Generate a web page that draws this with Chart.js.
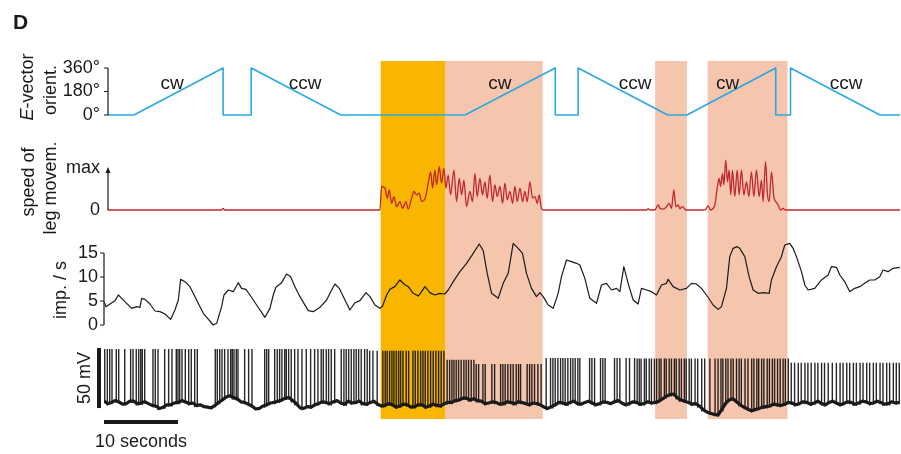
<!DOCTYPE html>
<html>
<head>
<meta charset="utf-8">
<title>E-vector response</title>
<script src="https://cdn.jsdelivr.net/npm/chart.js@4.4.1/dist/chart.umd.min.js"></script>
<style>
  html, body { margin: 0; padding: 0; background: #fff; }
  #wrap { width: 901px; height: 454px; }
</style>
</head>
<body>
<div id="wrap"><canvas id="myChart" width="901" height="454"></canvas></div>
<script>
// Shaded behaviour periods (seconds)
const shadeStarts = [37.4, 46.1, 74.5, 81.6];
const shadeEnds = [46.1, 59.3, 78.8, 92.4];
const shadeKinds = ['onset', 'walking', 'walking', 'walking'];

// E-vector orientation of the stimulus (degrees)
const eTimes = [0.5, 4.05, 16.1, 16.1, 19.9, 19.9, 32.0, 48.8, 61.0, 61.0, 64.1, 64.1, 76.2, 78.8, 90.8, 90.8, 92.8, 92.8, 104.9, 107.6];
const eAngles = [0, 0, 360, 0, 0, 360, 0, 0, 360, 0, 0, 360, 0, 0, 360, 0, 0, 360, 0, 0];
const eTicks = [0, 180, 360];
const rotationLabels = ['cw', 'ccw', 'cw', 'ccw', 'cw', 'ccw'];
const rotationLabelTimes = [9.2, 27.2, 53.5, 71.8, 84.3, 100.3];

// speed of leg movements (0 .. max = 1)
const speedTimes = [0.5, 15.9, 16.1, 16.3,
  37.3, 37.52, 37.97, 38.29, 38.56, 38.88, 39.19, 39.55, 40.0, 40.36,
  40.81, 41.13, 41.58, 41.9, 42.26, 42.62, 42.93, 43.38, 43.83, 44.15,
  44.42, 44.73, 44.96, 45.32, 45.63, 45.95, 46.22, 46.53, 46.85, 47.3,
  47.66, 48.02, 48.34, 48.65, 49.01, 49.46, 49.82, 50.14, 50.45, 50.81,
  51.17, 51.49, 51.8, 52.16, 52.52, 52.84, 53.15, 53.52, 53.88, 54.19,
  54.51, 54.87, 55.23, 55.54, 55.86, 56.22, 56.58, 56.89, 57.21, 57.57,
  57.93, 58.25, 58.56, 58.83, 59.14, 59.46,
  73.34, 73.56, 73.8, 74.46, 74.91, 75.14, 75.59, 76.04, 76.4, 76.71, 77.03, 77.3, 77.62, 77.84, 78.2, 78.65,
  81.0, 81.35, 81.67, 81.98, 82.3, 82.57, 82.89, 83.16, 83.34, 83.61,
  83.79, 84.05, 84.28, 84.5, 84.73, 84.95, 85.27, 85.59, 85.86, 86.17,
  86.49, 86.85, 87.16, 87.52, 87.84, 88.2, 88.56, 88.88, 89.1, 89.42,
  89.69, 89.91, 90.23, 90.54, 90.81, 91.13, 91.44, 91.8, 92.08, 107.6];
const speedValues = [0, 0, 0.04, 0,
  0, 0.56, 0.52, 0.28, 0.48, 0.16, 0.32, 0.08, 0.2, 0.04,
  0.2, 0.02, 0.28, 0.44, 0.36, 0.4, 0.2, 0.26, 0.64, 0.91,
  0.52, 0.95, 0.6, 1.03, 0.64, 0.99, 0.52, 0.83, 0.36, 0.95,
  0.2, 0.75, 0.36, 0.71, 0.08, 0.44, 0.2, 0.87, 0.32, 0.75,
  0.36, 0.67, 0.28, 0.83, 0.2, 0.6, 0.32, 0.56, 0.16, 0.64,
  0.24, 0.44, 0.16, 0.56, 0.2, 0.52, 0.2, 0.44, 0.2, 0.67,
  0.28, 0.32, 0.16, 0.36, 0.02, 0,
  0, 0.03, 0, 0, 0.12, 0.04, 0.02, 0.08, 0.16, 0.04, 0.48, 0.08, 0.12, 0.03, 0.08, 0,
  0, 0.02, 0.1, 0, 0.03, 0.12, 0.52, 0.75, 0.56, 0.87,
  0.6, 1.19, 0.67, 0.95, 0.36, 0.95, 0.32, 0.95, 0.36, 0.95,
  0.36, 0.67, 0.32, 0.91, 0.32, 0.95, 0.32, 0.71, 0.2, 1.15,
  0.36, 0.2, 0.91, 0.32, 0.2, 0.12, 0, 0.04, 0, 0];

// spike rate (imp. / s)
const rateTimes = [0, 0.27, 0.81, 1.49, 1.94, 2.39, 3.06, 3.74, 4.41, 4.86,
  5.09, 5.54, 6.22, 6.89, 7.57, 8.24, 9.01, 9.59, 10.05, 10.36,
  10.95, 11.62, 12.52, 13.42, 14.77, 15.23, 15.9, 16.22, 16.8, 17.48,
  18.15, 18.6, 19.19, 19.73, 20.63, 21.76, 22.43, 22.88, 23.24, 24.01,
  24.68, 25.23, 25.81, 26.49, 27.61, 28.29, 29.19, 30.09, 30.77, 31.22,
  31.8, 32.57, 33.24, 33.92, 34.59, 35.41, 35.95, 36.62, 37.3, 37.66,
  38.2, 38.65, 39.32, 40.0, 40.54, 41.13, 41.8, 42.48, 42.93, 43.38,
  44.05, 44.73, 45.41, 46.08, 46.53, 47.21, 48.11, 49.01, 49.91, 50.72,
  51.26, 51.8, 52.39, 53.29,
  53.96, 54.64, 55.31, 55.99, 56.57, 57.11, 57.79, 58.46, 58.92, 59.37,
  60.04, 60.72, 61.39, 61.84, 62.52, 63.19, 63.87, 64.32, 65.0, 65.67,
  66.57, 67.25, 67.92, 68.6, 69.28, 69.73, 70.27, 70.85, 71.53, 72.2,
  72.65, 73.33, 74.0, 74.68, 75.36, 76.03, 76.26, 76.93, 77.83, 78.74,
  79.41, 80.09, 80.76, 81.44, 82.34, 83.01, 83.47, 84.14, 84.59, 85.04,
  85.58, 85.94, 86.62, 87.2, 87.75, 88.42, 89.1, 89.91, 90.22, 90.9,
  91.57, 92.02, 92.7, 93.15, 93.6, 94.28, 94.73, 95.18, 96.08, 96.98,
  97.88, 98.33, 99.01, 99.46, 100.13, 100.81, 101.48, 102.16, 102.83, 103.51,
  104.18, 104.86, 105.31, 105.99, 106.66, 107.57];
const rateValues = [4.86, 3.82, 4.38, 5.07, 6.25, 5.56, 4.51, 3.47, 3.82, 3.68,
  5.56, 5.35, 4.38, 2.92, 2.78, 2.29, 1.18, 3.13, 5.21, 9.51,
  9.03, 7.99, 5.21, 2.43, 0, 0.35, 3.82, 6.25, 7.29, 6.94,
  8.82, 7.64, 7.43, 6.25, 4.17, 1.6, 3.47, 6.25, 7.85, 8.82,
  10.63, 10.07, 7.99, 5.9, 2.99, 2.78, 3.68, 5.21, 7.29, 8.54,
  7.64, 5.21, 3.13, 4.65, 5.07, 6.74, 5.9, 4.17, 3.47, 3.96,
  6.25, 7.43, 7.99, 9.38, 8.54, 7.99, 6.6, 6.04, 6.94, 7.99,
  6.74, 6.25, 6.6, 6.46, 7.29, 9.03, 11.11, 12.85, 14.93, 16.88,
  15.49, 10.76, 6.6, 5.56,
  8.68, 10.76, 17.01, 15.97, 14.93, 10.76, 7.64, 5.9, 6.74, 5.9,
  4.17, 3.47, 6.6, 10.07, 13.54, 13.19, 12.85, 12.5, 9.72, 5.56,
  4.51, 8.33, 8.68, 7.29, 7.64, 6.94, 12.15, 8.68, 5.21, 4.38,
  7.64, 7.29, 6.94, 6.25, 8.33, 8.68, 9.51, 7.99, 7.29, 7.64,
  8.68, 8.54, 7.64, 6.25, 4.17, 3.26, 3.82, 7.64, 14.24, 15.97,
  16.32, 15.97, 14.24, 10.07, 7.29, 6.6, 6.74, 6.6, 9.38, 12.15,
  14.24, 16.67, 17.01, 15.97, 14.24, 11.11, 8.33, 7.29, 7.64, 9.38,
  10.42, 12.15, 12.01, 10.42, 9.03, 6.94, 7.64, 7.99, 8.68, 9.38,
  9.38, 10.07, 11.46, 11.11, 11.81, 12.01];
const rateTicks = [0, 5, 10, 15];

// membrane potential between spikes, one value every half second (mV)
const vmStep = 0.5;
const vmBaseline = [-61, -63, -62, -60.5, -61.5, -63.5, -63, -61, -61, -63,
  -62.5, -61.5, -63, -64.5, -65, -67, -66, -64, -64, -62.5,
  -62, -60.5, -61.5, -63, -62.5, -64.5, -64, -65.5, -66, -66.5,
  -64.5, -62, -60, -57.5, -56.5, -58, -59, -61.5, -62, -63.5,
  -65, -67.5, -67, -65, -64, -62.5, -62, -61, -60, -58.5,
  -58, -60.5, -63, -66.5, -67, -65.5, -66, -64, -63, -61.5,
  -62, -63, -61.5, -60.5, -62.5, -63.5, -61, -62.5, -62, -61,
  -63, -63.5, -62, -61, -63.5, -65, -64.5, -63, -64, -66,
  -65, -63.5, -64, -66, -65.5, -64, -64, -66, -65, -63.5,
  -64.5, -65, -63, -62, -62, -60.5, -60, -58.5, -58.5, -60,
  -59, -60.5, -61, -63, -62.5, -61.5, -62, -63.5, -63, -61.5,
  -62, -63, -61.5, -62, -63, -64, -62.5, -63, -64, -66,
  -67, -65.5, -64, -62, -62.5, -63.5, -62, -61, -63, -63.5,
  -62, -61, -62.5, -64, -63, -61.5, -62, -63, -61.5, -60.5,
  -62.5, -64, -63, -61.5, -62, -63.5, -63, -61.5, -62.5, -62,
  -61, -59, -57, -55.5, -55, -58, -60, -61, -62, -63.5,
  -63, -65, -68, -70, -71, -72, -72.5, -68, -63, -60,
  -59, -61.5, -64, -66, -67.5, -69, -68, -67, -66, -65.5,
  -65, -63.5, -64, -64.5, -63.5, -62, -62.5, -64, -63, -61.5,
  -62, -63.5, -62.5, -61, -63, -64, -62, -61, -62.5, -64,
  -63, -61.5, -62, -63.5, -62.5, -61, -61.5, -63, -62.5, -61,
  -62, -63.5, -63, -61.5, -62.5, -62];

// spike times (s), grouped by stretches of similar spike height
const spikesEarly = [0.1, 0.45, 0.77, 1.08, 1.66, 1.99, 2.8, 3.6, 3.92, 4.36, 4.69, 4.96, 5.18, 5.5,
  6.62, 6.93, 7.3, 8.2, 8.74, 9.19, 9.77, 10.0, 10.23, 10.54, 10.99, 11.45, 11.8, 12.26, 12.61,
  15.04, 15.31, 15.64, 15.95, 16.31, 16.76, 17.12, 17.34, 17.57, 17.88, 18.11, 19.01, 19.55, 20.0,
  21.72, 21.99, 22.26, 23.07, 23.42, 23.74, 24.05, 24.42, 24.64, 24.96, 25.31, 25.77, 26.22, 26.76,
  27.34, 27.93, 28.47, 28.92, 29.36, 29.64, 30.04, 30.36, 30.72, 31.18, 32.07, 32.43, 32.74, 33.07,
  33.42, 33.78, 34.09, 34.42, 34.77, 35.23, 35.58];
const spikesOnset = [35.91, 36.35, 36.93, 37.7, 38.01, 38.28, 38.61, 38.92, 39.19, 39.5, 39.82, 40.09,
  40.41, 40.85, 41.18, 41.76, 42.07, 42.43, 42.8, 43.11, 43.42, 43.78, 44.15, 44.5, 44.86, 45.23,
  45.58, 45.95];
const spikesWalk1 = [46.39, 46.72, 47.03, 47.3, 47.61, 47.93, 48.28, 48.65, 48.96, 49.28, 49.64, 50.0];
const spikesWalk2 = [50.31, 50.64, 51.22, 51.53, 52.43, 52.8, 53.61, 53.92, 54.23, 54.59, 54.96, 55.31,
  55.72, 56.04, 56.31, 57.2, 57.53, 57.84, 58.2, 58.65, 59.09];
const spikesMid = [59.77, 60.36, 60.68, 60.99, 61.35, 61.72, 62.03, 62.34, 62.7, 63.07, 63.38, 63.69,
  64.05, 64.32, 65.64, 65.95, 66.31, 67.12, 67.43, 67.74, 69.01, 69.36, 69.73, 70.58, 71.04, 71.72];
const spikesLate = [72.07, 72.35, 72.6, 73.05, 73.3, 73.7, 74.0, 74.4, 74.7, 75.05, 75.3, 75.75, 76.0,
  76.4, 76.7, 77.1, 77.35, 77.75, 78.05, 78.45, 78.7, 79.1, 79.4, 79.9, 80.25, 80.8, 81.2, 81.9,
  82.6, 83.0, 83.4, 83.65, 84.05, 84.35, 84.75, 85.05, 85.5, 85.85, 86.15, 86.65, 87.05, 87.55,
  87.85, 88.25, 88.5, 88.9, 89.2, 89.65, 89.95, 90.35, 90.65, 91.05, 91.4, 91.8, 92.1, 92.5];
const spikesEnd = [92.9, 93.35, 93.85, 94.25, 94.75, 95.15, 95.6, 96.1, 96.5, 97.0, 97.4, 97.9, 98.45,
  99.0, 99.5, 99.9, 100.4, 100.8, 101.3, 101.7, 102.2, 102.6, 103.1, 103.5, 104.0, 104.4, 104.9,
  105.3, 105.8, 106.2, 106.7, 107.1, 107.5];
// peak potential of the spikes in each group above (mV)
const spikePeaks = [-17.5, -19, -26.5, -30, -25, -25.5, -29];

// ---- build chart data ----
const toPoints = (xs, ys) => xs.map((x, i) => ({ x: x, y: ys[i] }));

const spikeSets = [spikesEarly, spikesOnset, spikesWalk1, spikesWalk2, spikesMid, spikesLate, spikesEnd];
const spikePoints = [];
spikeSets.forEach((times, g) => {
    times.forEach(t => {
        const k = Math.min(vmBaseline.length - 1, Math.round(t / vmStep));
        spikePoints.push({ x: t, y: vmBaseline[k] - 1.5 }, { x: t, y: spikePeaks[g] }, { x: t, y: null });
    });
});

const shadeFill = { onset: '#f9b600', walking: '#f6c5ae' };
const ink = '#1a1a1a';
const font = "'Liberation Sans', Arial, sans-serif";

Chart.defaults.font.family = font;
Chart.defaults.color = ink;

// left axis column shared by the four stacked panels
const panelAxis = (weight, stackWeight, min, max, ticks, pad, label) => ({
    position: 'left',
    stack: 'panels',
    stackWeight: stackWeight,
    weight: weight,
    min: min,
    max: max,
    grid: { display: false, drawTicks: false },
    border: { display: false },
    ticks: {
        display: ticks.length > 0,
        autoSkip: false,
        padding: pad,
        font: { size: 18 },
        color: ink,
        callback: label,
    },
    afterBuildTicks: (scale) => { scale.ticks = ticks.map(v => ({ value: v })); },
    afterFit: (scale) => { scale.width = 104; },
});

// shading, axis brackets, scale bars and texts
const figureDecor = {
    id: 'figureDecor',
    beforeDatasetsDraw(chart) {
        const { ctx, chartArea, scales } = chart;
        ctx.save();
        shadeStarts.forEach((s, i) => {
            const x0 = scales.x.getPixelForValue(s);
            const x1 = scales.x.getPixelForValue(shadeEnds[i]);
            ctx.fillStyle = shadeFill[shadeKinds[i]];
            ctx.fillRect(x0, chartArea.top, x1 - x0, chartArea.bottom - chartArea.top);
        });
        ctx.restore();
    },
    afterDraw(chart) {
        const { ctx, chartArea, scales } = chart;
        const left = chartArea.left;
        ctx.save();
        ctx.strokeStyle = ink;
        ctx.fillStyle = ink;
        ctx.lineWidth = 1.2;

        // bracket axes
        const bracket = (scale, x, ticks) => {
            ctx.beginPath();
            ctx.moveTo(x, scale.getPixelForValue(ticks[0]));
            ctx.lineTo(x, scale.getPixelForValue(ticks[ticks.length - 1]));
            ticks.forEach(v => {
                const y = scale.getPixelForValue(v);
                ctx.moveTo(x - 4, y);
                ctx.lineTo(x, y);
            });
            ctx.stroke();
        };
        bracket(scales.yE, left + 4, eTicks);
        bracket(scales.yRate, left, rateTicks);

        // speed axis: arrow up to "max"
        const ax = left + 4;
        const y0 = scales.ySpeed.getPixelForValue(0);
        const y1 = scales.ySpeed.getPixelForValue(1);
        ctx.beginPath();
        ctx.moveTo(ax, y0);
        ctx.lineTo(ax, y1 + 3);
        ctx.stroke();
        ctx.beginPath();
        ctx.moveTo(ax, y1 - 1);
        ctx.lineTo(ax - 2.5, y1 + 5);
        ctx.lineTo(ax + 2.5, y1 + 5);
        ctx.closePath();
        ctx.fill();

        // 50 mV scale bar
        ctx.lineWidth = 4;
        ctx.beginPath();
        ctx.moveTo(left - 5, scales.ySpike.getPixelForValue(-66.7));
        ctx.lineTo(left - 5, scales.ySpike.getPixelForValue(-16.7));
        ctx.stroke();

        // 10 seconds scale bar
        const bx0 = scales.x.getPixelForValue(0);
        const bx1 = scales.x.getPixelForValue(10);
        ctx.beginPath();
        ctx.moveTo(bx0, chartArea.bottom + 3);
        ctx.lineTo(bx1, chartArea.bottom + 3);
        ctx.stroke();
        ctx.font = '18px ' + font;
        ctx.textAlign = 'center';
        ctx.textBaseline = 'alphabetic';
        ctx.fillText('10 seconds', (bx0 + bx1) / 2, chartArea.bottom + 28);

        // rotation direction labels
        ctx.font = '19px ' + font;
        ctx.textBaseline = 'middle';
        rotationLabels.forEach((lab, i) => {
            ctx.fillText(lab, scales.x.getPixelForValue(rotationLabelTimes[i]), scales.yE.getPixelForValue(240));
        });

        // panel letter
        ctx.font = 'bold 21px ' + font;
        ctx.textAlign = 'left';
        ctx.textBaseline = 'alphabetic';
        ctx.fillText('D', 13, 29);

        // rotated axis titles, parts: [text, font]
        const vText = (parts, x, y) => {
            ctx.save();
            ctx.translate(x, y);
            ctx.rotate(-Math.PI / 2);
            ctx.textAlign = 'left';
            ctx.textBaseline = 'alphabetic';
            let total = 0;
            parts.forEach(p => { ctx.font = p[1]; total += ctx.measureText(p[0]).width; });
            let cx = -total / 2;
            parts.forEach(p => {
                ctx.font = p[1];
                ctx.fillText(p[0], cx, 0);
                cx += ctx.measureText(p[0]).width;
            });
            ctx.restore();
        };
        const f = '18px ' + font;
        vText([['E', 'italic ' + f], ['-vector', f]], 33, 87);
        vText([['orient.', f]], 56, 90);
        vText([['speed of', f]], 34, 182);
        vText([['leg movem.', f]], 56, 188);
        vText([['imp. / s', f]], 66, 290);
        vText([['50 mV', f]], 90, 378);
        ctx.restore();
    },
};

const config = {
    type: 'line',
    data: {
        datasets: [
            { data: toPoints(eTimes, eAngles), yAxisID: 'yE', borderColor: '#29a9df', borderWidth: 1.6 },
            { data: toPoints(speedTimes, speedValues), yAxisID: 'ySpeed', borderColor: '#c1272d', borderWidth: 1.3,
              cubicInterpolationMode: 'monotone' },
            { data: toPoints(rateTimes, rateValues), yAxisID: 'yRate', borderColor: ink, borderWidth: 1.2 },
            { data: vmBaseline.map((v, i) => ({ x: i * vmStep, y: v })), yAxisID: 'ySpike', borderColor: ink, borderWidth: 3.2 },
            { data: spikePoints, yAxisID: 'ySpike', borderColor: 'rgba(10,10,10,0.88)', borderWidth: 1.4, spanGaps: false },
        ],
    },
    options: {
        responsive: false,
        animation: false,
        events: [],
        devicePixelRatio: 1,
        layout: { padding: { top: 61, bottom: 35, left: 0, right: 1 } },
        elements: { point: { radius: 0 }, line: { tension: 0, borderJoinStyle: 'round' } },
        plugins: { legend: { display: false }, tooltip: { enabled: false } },
        scales: {
            x: { type: 'linear', min: 0, max: 107.6, display: false },
            ySpike: panelAxis(1, 81, -75.83, -8.33, [], 0, v => ''),
            yRate: panelAxis(2, 106, -2.708, 19.375, rateTicks, 6, v => String(v)),
            ySpeed: panelAxis(3, 92, -0.524, 1.667, [0, 1], 4, v => (v === 1 ? 'max' : '0')),
            yE: panelAxis(4, 79, -191.5, 413.6, eTicks, 4, v => v + '°'),
        },
    },
    plugins: [figureDecor],
};

// Create the chart
const ctx = document.getElementById('myChart').getContext('2d');
const myChart = new Chart(ctx, config);
</script>
</body>
</html>
